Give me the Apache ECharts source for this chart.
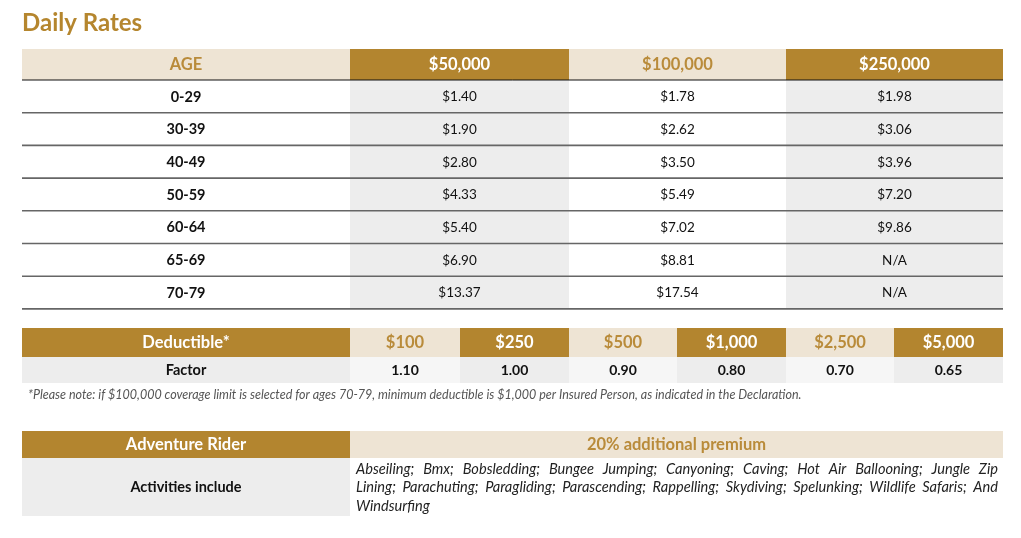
<!DOCTYPE html>
<html><head><meta charset="utf-8">
<script src="https://cdn.jsdelivr.net/npm/echarts@6/dist/echarts.min.js"></script>
<style>html,body{margin:0;padding:0;background:#fff}#c{width:1021px;height:538px}</style>
</head><body><div id="c"></div>
<script>
// ---------- DATA ----------
const titleText = 'Daily Rates';
const coverageHeaders = ['AGE', '$50,000', '$100,000', '$250,000'];
const ageBands = ['0-29', '30-39', '40-49', '50-59', '60-64', '65-69', '70-79'];
const rates50k = ['$1.40', '$1.90', '$2.80', '$4.33', '$5.40', '$6.90', '$13.37'];
const rates100k = ['$1.78', '$2.62', '$3.50', '$5.49', '$7.02', '$8.81', '$17.54'];
const rates250k = ['$1.98', '$3.06', '$3.96', '$7.20', '$9.86', 'N/A', 'N/A'];
const deductibleHeaders = ['Deductible*', '$100', '$250', '$500', '$1,000', '$2,500', '$5,000'];
const factorRow = ['Factor', '1.10', '1.00', '0.90', '0.80', '0.70', '0.65'];
const footnote = '*Please note: if $100,000 coverage limit is selected for ages 70-79, minimum deductible is $1,000 per Insured Person, as indicated in the Declaration.';
const riderHeaders = ['Adventure Rider', '20% additional premium'];
const activitiesLabel = 'Activities include';
const activitiesLines = [
  'Abseiling; Bmx; Bobsledding; Bungee Jumping; Canyoning; Caving; Hot Air Ballooning; Jungle Zip',
  'Lining; Parachuting; Paragliding; Parascending; Rappelling; Skydiving; Spelunking; Wildlife Safaris; And',
  'Windsurfing'
];

// ---------- LAYOUT / STYLE ----------
const FONT = 'Lato';
const GOLD = '#B3852F', BEIGE = '#EEE4D4', GOLDTXT = '#B98B3A', GRAY = '#EDEDED', LIGHT = '#F6F6F6';
const L = {
  t1x: [22, 350, 569, 786, 1003], t1Head: [49, 80], t1RowH: 32.7,
  t2x: [22, 350, 460, 569, 677, 786, 894, 1003], t2Head: [328, 357], t2Row: [357, 383],
  noteX: 28, noteY: 395,
  t3x: [22, 350, 1003], t3Head: [431, 458], t3Row: [458, 516],
  actX: [356, 998], actY: 469, actLH: 18.5
};
const SZ = { head: 16.5, label: 14.5, value: 13.5, factor: 14, note: 12.5, act: 14.6, title: 24 };

// ---------- BUILD CELLS ----------
const cells = [];
function cell(x0, x1, y0, y1, fill, text, color, weight, size, style) {
  cells.push({ x0, x1, y0, y1, fill, text, color, weight: weight || 'normal', size: size || 13, style: style || 'normal' });
}
coverageHeaders.forEach((h, i) => {
  const gold = i % 2 === 1;
  cell(L.t1x[i], L.t1x[i + 1], L.t1Head[0], L.t1Head[1], gold ? GOLD : BEIGE, h, gold ? '#fff' : GOLDTXT, 'bold', SZ.head);
});
const t1cols = [ageBands, rates50k, rates100k, rates250k];
ageBands.forEach((_, r) => {
  const y0 = L.t1Head[1] + r * L.t1RowH, y1 = y0 + L.t1RowH;
  t1cols.forEach((col, c) => {
    cell(L.t1x[c], L.t1x[c + 1], y0, y1, c % 2 === 1 ? GRAY : '#fff', col[r], '#111',
      c === 0 ? 'bold' : 'normal', c === 0 ? SZ.label : SZ.value);
  });
});
deductibleHeaders.forEach((h, i) => {
  const gold = i % 2 === 0;
  cell(L.t2x[i], L.t2x[i + 1], L.t2Head[0], L.t2Head[1], gold ? GOLD : BEIGE, h, gold ? '#fff' : GOLDTXT, 'bold', SZ.head);
});
factorRow.forEach((v, i) => {
  cell(L.t2x[i], L.t2x[i + 1], L.t2Row[0], L.t2Row[1], i % 2 === 0 ? GRAY : LIGHT, v, '#111', 'bold', i === 0 ? SZ.label : SZ.factor);
});
cell(L.t3x[0], L.t3x[1], L.t3Head[0], L.t3Head[1], GOLD, riderHeaders[0], '#fff', 'bold', SZ.head);
cell(L.t3x[1], L.t3x[2], L.t3Head[0], L.t3Head[1], BEIGE, riderHeaders[1], GOLDTXT, 'bold', SZ.head);
cell(L.t3x[0], L.t3x[1], L.t3Row[0], L.t3Row[1], GRAY, activitiesLabel, '#111', 'bold', SZ.label);
cell(L.t3x[1], L.t3x[2], L.t3Row[0], L.t3Row[1], '#fff', '', '#111');

const lines = [];
lines.push({ x0: L.t1x[0], x1: L.t1x[4], y: L.t1Head[1], color: '#111', w: 1 });
ageBands.forEach((_, r) => {
  lines.push({ x0: L.t1x[0], x1: L.t1x[4], y: L.t1Head[1] + (r + 1) * L.t1RowH, color: '#666', w: 1.6 });
});

const mctx = document.createElement('canvas').getContext('2d');
function measure(t, font) { mctx.font = font; return mctx.measureText(t).width; }

const chart = echarts.init(document.getElementById('c'), null, { renderer: 'canvas' });
chart.setOption({
  animation: false,
  title: {
    text: titleText, left: 22, top: 11, padding: 0,
    textStyle: { fontFamily: FONT, fontSize: SZ.title, fontWeight: 'bold', color: '#B5862E' }
  },
  grid: { left: 0, right: 0, top: 0, bottom: 0 },
  xAxis: { type: 'value', min: 0, max: 1021, show: false },
  yAxis: { type: 'value', min: 0, max: 538, inverse: true, show: false },
  series: [
    {
      type: 'custom', coordinateSystem: 'cartesian2d', silent: true,
      data: cells.map((c, i) => [c.x0, c.y0, c.x1, c.y1, i]),
      renderItem: function (params, api) {
        const c = cells[api.value(4)];
        const p0 = api.coord([api.value(0), api.value(1)]);
        const p1 = api.coord([api.value(2), api.value(3)]);
        const children = [{
          type: 'rect', shape: { x: p0[0], y: p0[1], width: p1[0] - p0[0], height: p1[1] - p0[1] },
          style: { fill: c.fill }
        }];
        if (c.text) children.push({
          type: 'text',
          style: {
            text: c.text, x: (p0[0] + p1[0]) / 2, y: (p0[1] + p1[1]) / 2 + 0.5,
            align: 'center', verticalAlign: 'middle', fill: c.color,
            font: c.style + ' ' + c.weight + ' ' + c.size + 'px ' + FONT
          }
        });
        return { type: 'group', children };
      }
    },
    {
      type: 'custom', coordinateSystem: 'cartesian2d', silent: true, z: 3,
      data: lines.map((l, i) => [l.x0, l.y, l.x1, i]),
      renderItem: function (params, api) {
        const l = lines[api.value(3)];
        const a = api.coord([api.value(0), api.value(1)]);
        const b = api.coord([api.value(2), api.value(1)]);
        return { type: 'line', shape: { x1: a[0], y1: a[1], x2: b[0], y2: b[1] }, style: { stroke: l.color, lineWidth: l.w } };
      }
    },
    {
      type: 'custom', coordinateSystem: 'cartesian2d', silent: true, z: 3,
      data: [[L.noteX, L.noteY]],
      renderItem: function (params, api) {
        const p = api.coord([api.value(0), api.value(1)]);
        return { type: 'text', style: { text: footnote, x: p[0], y: p[1], align: 'left', verticalAlign: 'middle', fill: '#555', font: 'italic ' + SZ.note + 'px ' + FONT } };
      }
    },
    {
      type: 'custom', coordinateSystem: 'cartesian2d', silent: true, z: 3,
      data: activitiesLines.map((t, i) => [L.actX[0], L.actY + i * L.actLH, L.actX[1], i]),
      renderItem: function (params, api) {
        const idx = api.value(3);
        const line = activitiesLines[idx];
        const a = api.coord([api.value(0), api.value(1)]);
        const b = api.coord([api.value(2), api.value(1)]);
        const font = 'italic ' + SZ.act + 'px ' + FONT;
        const words = line.split(' ');
        const last = idx === activitiesLines.length - 1;
        const widths = words.map(w => measure(w, font));
        const total = widths.reduce((s, w) => s + w, 0);
        const gap = last || words.length < 2 ? measure(' ', font) : (b[0] - a[0] - total) / (words.length - 1);
        let x = a[0];
        const children = words.map((w, i) => {
          const el = { type: 'text', style: { text: w, x: x, y: a[1], align: 'left', verticalAlign: 'middle', fill: '#222', font } };
          x += widths[i] + gap;
          return el;
        });
        return { type: 'group', children };
      }
    }
  ]
});
</script></body></html>
